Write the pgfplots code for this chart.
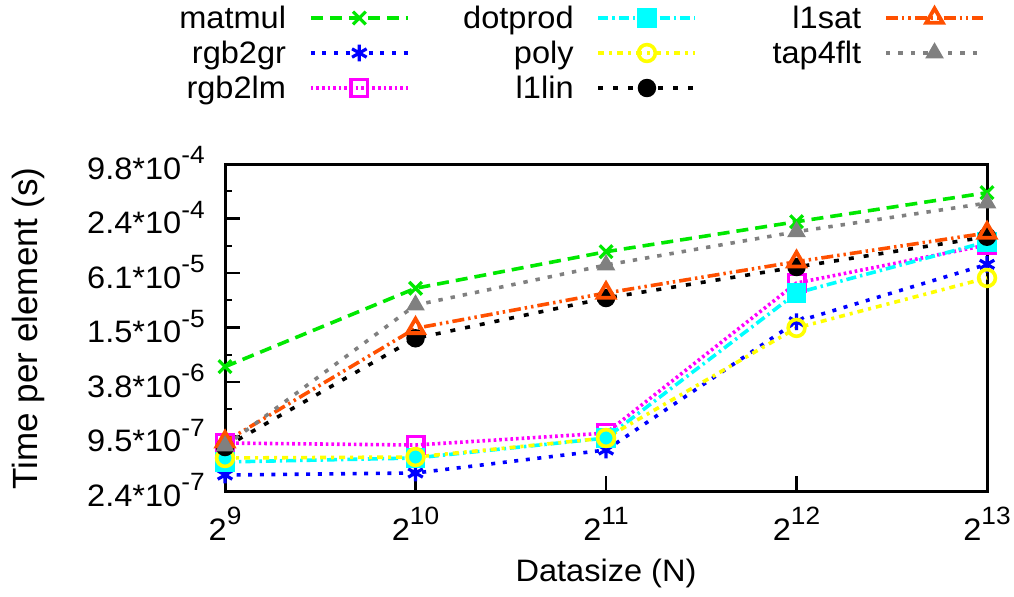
\documentclass[border=0pt]{standalone}
\usepackage{fontspec}
\setmainfont{Liberation Sans}
\newfontfamily\widefont{Liberation Sans}[FakeStretch=1.05]
\usepackage{pgfplots}
\usepackage{pgfplotstable}
\pgfplotsset{compat=1.18}

\definecolor{cmatmul}{RGB}{0,232,0}
\definecolor{crgbgr}{RGB}{0,0,255}
\definecolor{crgblm}{RGB}{255,0,255}
\definecolor{cdot}{RGB}{0,255,255}
\definecolor{cpoly}{RGB}{255,255,0}
\definecolor{clin}{RGB}{0,0,0}
\definecolor{csat}{RGB}{255,80,0}
\definecolor{ctap}{RGB}{128,128,128}

% time per element (s)
\pgfplotstableread{
N    matmul   rgbgr    rgblm    dotprod  poly     lin      sat      tap
512  5.63e-6  3.58e-7  8.08e-7  4.99e-7  5.52e-7  7.30e-7  8.36e-7  7.49e-7
1024 4.14e-5  3.77e-7  7.68e-7  5.52e-7  5.66e-7  1.16e-5  1.495e-5 2.70e-5
2048 1.049e-4 6.77e-7  1.04e-6  9.18e-7  9.18e-7  3.23e-5  3.67e-5  7.48e-5
4096 2.25e-4  1.77e-5  4.73e-5  3.67e-5  1.51e-5  7.11e-5  8.14e-5  1.745e-4
8192 4.71e-4  7.61e-5  1.245e-4 1.35e-4  5.38e-5  1.536e-4 1.688e-4 3.62e-4
}\data

\pgfplotsset{
  smatmul/.style={color=cmatmul, line width=1.8pt, dash pattern=on 6pt off 3.5pt, mark=x, mark size=4.5pt, mark options={solid, line width=1.6pt}},
  srgbgr/.style={color=crgbgr, line width=1.8pt, dash pattern=on 2pt off 3.8pt, mark=asterisk, mark size=4.2pt, mark options={solid, line width=1.6pt}},
  srgblm/.style={color=crgblm, line width=1.8pt, dash pattern=on 1.3pt off 1.5pt, mark=square, mark size=4.2pt, mark options={solid, line width=1.6pt}},
  sdot/.style={color=cdot, line width=1.8pt, dash pattern=on 5pt off 2pt on 1.2pt off 2pt, mark=square*, mark size=4pt, mark options={solid}},
  spoly/.style={color=cpoly, line width=1.8pt, dash pattern=on 3pt off 2.5pt on 1.5pt off 2.5pt, mark=o, mark size=4.2pt, mark options={solid, line width=1.8pt}},
  slin/.style={color=clin, line width=1.8pt, dash pattern=on 2.5pt off 5pt, mark=*, mark size=3.7pt, mark options={solid}},
  ssat/.style={color=csat, line width=1.8pt, dash pattern=on 6pt off 2pt on 1.2pt off 2pt on 1.2pt off 2pt, mark=triangle, mark size=4.8pt, mark options={solid, line width=1.9pt}},
  stap/.style={color=ctap, line width=1.8pt, dash pattern=on 2.2pt off 4pt, mark=triangle*, mark size=3.6pt, mark options={solid}},
}
\newcommand{\lt}[1]{\makebox[60pt][r]{\rule[-3.75pt]{0pt}{17.5pt}#1}}
\newcommand{\sx}[1]{\raisebox{0.5em}{\fontsize{12.5}{14}\selectfont #1}}

\begin{document}
\begin{tikzpicture}
\useasboundingbox (-112.5pt,-52.5pt) rectangle (394.5pt,245.5pt);
\begin{axis}[
  scale only axis,
  width=381pt, height=163.5pt,
  xmode=log, log basis x=2, ymode=log, log basis y=2,
  xmin=512, xmax=8192,
  ymin=2.384185791015625e-7, ymax=9.765625e-4,
  xtick={512,1024,2048,4096,8192},
  xticklabels={2\sx{9},2\sx{10},2\sx{11},2\sx{12},2\sx{13}},
  ytick={2.384185791015625e-7,9.5367431640625e-7,3.814697265625e-6,1.52587890625e-5,6.103515625e-5,2.44140625e-4,9.765625e-4},
  yticklabels={2.4*10\sx{-7},9.5*10\sx{-7},3.8*10\sx{-6},1.5*10\sx{-5},6.1*10\sx{-5},2.4*10\sx{-4},9.8*10\sx{-4}},
  extra y ticks={4.76837158203125e-7,1.9073486328125e-6,7.62939453125e-6,3.0517578125e-5,1.220703125e-4,4.8828125e-4},
  extra y tick labels={},
  extra y tick style={major tick length=3.5pt},
  minor tick num=0,
  tick align=inside, xtick pos=bottom, ytick pos=left,
  major tick length=7.5pt,
  every tick/.style={black, line width=1.2pt},
  axis line style={line width=1.5pt},
  tick label style={font=\widefont\fontsize{15.5}{18}\selectfont, inner sep=0pt},
  yticklabel style={anchor=base east, xshift=-10pt, yshift=-7.5pt},
  xticklabel style={anchor=base, yshift=-24.5pt},
  xlabel={Datasize (N)},
  ylabel={Time per element (s)},
  xlabel style={font=\widefont\fontsize{15.5}{18}\selectfont, at={(axis description cs:0.5,-0.278)}, anchor=base},
  ylabel style={font=\fontsize{17.5}{20}\selectfont, at={(axis description cs:-0.2467,0.497)}, anchor=base, rotate=0},
  clip=false,
  legend columns=3,
  legend plot pos=right,
  legend image code/.code={\draw[mark repeat=2,mark phase=2] plot coordinates {(0pt,0pt) (24.25pt,0pt) (48.5pt,0pt)};},
  legend style={draw=none, fill=none, inner sep=0pt, outer sep=0pt,
    font=\widefont\fontsize{15.5}{18}\selectfont,
    at={(axis description cs:-0.0774,1.5)}, anchor=north west,
    cells={anchor=center}, nodes={inner sep=0pt, text depth=}, row sep=0pt,
    /tikz/every odd column/.append style={column sep=11.5pt},
    /tikz/every even column/.append style={column sep=22pt}},
]
\addplot[smatmul, forget plot] table[x=N, y=matmul] {\data};
\addplot[srgbgr, forget plot] table[x=N, y=rgbgr] {\data};
\addplot[srgblm, forget plot] table[x=N, y=rgblm] {\data};
\addplot[sdot, forget plot] table[x=N, y=dotprod] {\data};
\addplot[spoly, forget plot] table[x=N, y=poly] {\data};
\addplot[slin, forget plot] table[x=N, y=lin] {\data};
\addplot[ssat, forget plot] table[x=N, y=sat] {\data};
\addplot[stap, forget plot] table[x=N, y=tap] {\data};

\addlegendimage{smatmul}\addlegendentry{\lt{matmul}}
\addlegendimage{sdot}\addlegendentry{\lt{dotprod}}
\addlegendimage{ssat}\addlegendentry{\lt{l1sat}}
\addlegendimage{srgbgr}\addlegendentry{\lt{rgb2gr}}
\addlegendimage{spoly}\addlegendentry{\lt{poly}}
\addlegendimage{stap}\addlegendentry{\lt{tap4flt}}
\addlegendimage{srgblm}\addlegendentry{\lt{rgb2lm}}
\addlegendimage{slin}\addlegendentry{\lt{l1lin}}
\end{axis}
\end{tikzpicture}
\end{document}
